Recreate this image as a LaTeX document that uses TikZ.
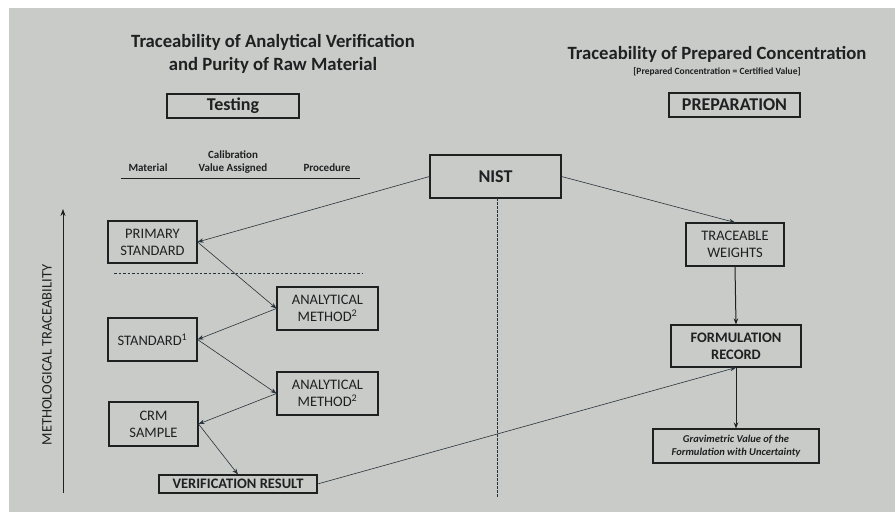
\documentclass[tikz,border=0pt]{standalone}
\usepackage{fontspec}
\setmainfont{Carlito}
\usetikzlibrary{arrows.meta,calc}
\definecolor{bg}{RGB}{201,203,200}
\definecolor{ink}{RGB}{30,32,34}
\definecolor{lnk}{RGB}{38,50,58}
\begin{document}
\begin{tikzpicture}[x=1pt,y=-1pt,
  box/.style={draw=ink,line width=1.1pt,text=ink,align=center,inner sep=1pt,font=\fontsize{14.5}{17}\selectfont},
  bbox/.style={box,font=\fontsize{14.5}{17}\selectfont\bfseries},
  conn/.style={draw=lnk,line width=0.6pt,-{Stealth[length=6pt,width=4.5pt]}},
  vconn/.style={conn,draw=ink,line width=1pt},
  hdr/.style={text=ink,font=\fontsize{11}{12.5}\selectfont\bfseries,inner sep=0pt}
]
\useasboundingbox (0,0) rectangle (895,512);
\fill[white] (0,0) rectangle (895,512);
\fill[bg] (9,8) rectangle (895,512);

% titles
\node[text=ink,font=\fontsize{18.7}{23}\selectfont\bfseries,align=center] (ttl) at (273,54) {Traceability of Analytical Verification\\and Purity of Raw Material};
\node[text=ink,font=\fontsize{18.7}{22}\selectfont\bfseries] (ttr) at (717,54) {Traceability of Prepared Concentration};
\node[text=ink,font=\fontsize{9.5}{11}\selectfont\bfseries] (sub) at (717,72) {[Prepared Concentration = Certified Value]};

\node[box,font=\fontsize{18}{20}\selectfont\bfseries,minimum width=132pt,minimum height=24pt] (testing) at (233,106) {Testing};
\node[box,font=\fontsize{18}{20}\selectfont\bfseries,minimum width=131pt,minimum height=24pt] (prep) at (734.5,105) {PREPARATION};

% column headers
\node[hdr] (hmat) at (148,168) {Material};
\node[hdr,align=center] (hcal) at (233,162) {Calibration\\[1pt]Value Assigned};
\node[hdr] (hproc) at (327,168) {Procedure};
\coordinate (hl1) at (121,178);
\coordinate (hl2) at (360,178);
\draw[ink,line width=0.8pt] (hl1) -- (hl2);

% boxes
\node[bbox,font=\fontsize{18}{20}\selectfont\bfseries,minimum width=131pt,minimum height=43pt] (nist) at (495.5,176.5) {NIST};
\node[box,minimum width=89pt,minimum height=42pt] (prim) at (152.5,242) {PRIMARY\\STANDARD};
\node[box,minimum width=101pt,minimum height=43pt] (am1) at (327.5,308.5) {ANALYTICAL\\METHOD\textsuperscript{2}};
\node[box,minimum width=89pt,minimum height=43pt] (std) at (152.5,339.5) {STANDARD\textsuperscript{1}};
\node[box,minimum width=101pt,minimum height=43pt] (am2) at (327.5,393.5) {ANALYTICAL\\METHOD\textsuperscript{2}};
\node[box,minimum width=89pt,minimum height=44pt] (crm) at (153.5,424) {CRM\\SAMPLE};
\node[bbox,font=\fontsize{14.5}{16}\selectfont\bfseries,minimum width=158pt,minimum height=18pt,inner sep=0pt] (ver) at (238,484) {VERIFICATION RESULT};
\node[box,minimum width=98pt,minimum height=43pt] (tw) at (735,244.5) {TRACEABLE\\WEIGHTS};
\node[bbox,minimum width=130pt,minimum height=42pt] (fr) at (736,346) {FORMULATION\\RECORD};
\node[box,font=\fontsize{10.5}{13}\selectfont\bfseries\itshape,minimum width=166pt,minimum height=34pt] (grav) at (736,446) {Gravimetric Value of the\\Formulation with Uncertainty};

% separators
\coordinate (dl1) at (114,273);
\coordinate (dl2) at (362,273);
\draw[lnk,line width=0.6pt,dash pattern=on 2.5pt off 2pt] (dl1) -- (dl2);
\coordinate (vd1) at (497,198);
\coordinate (vd2) at (497,497);
\draw[lnk,line width=0.6pt,dash pattern=on 2.5pt off 1.5pt] (vd1) -- (vd2);

% methodological traceability arrow
\coordinate (ma1) at (63,493);
\coordinate (ma2) at (63,209);
\draw[ink,line width=0.8pt,-{Stealth[length=7pt,width=5pt]}] (ma1) -- (ma2);
\node[text=ink,rotate=90,font=\fontsize{14.5}{16}\selectfont] (mlab) at (47,355) {METHOLOGICAL TRACEABILITY};

% connectors
\draw[conn] (nist.west) -- (prim.east);
\draw[conn] (prim.east) -- (am1.west);
\draw[conn] (am1.west) -- (std.east);
\draw[conn] (std.east) -- (am2.west);
\draw[conn] (am2.west) -- (crm.east);
\draw[conn] (crm.east) -- (ver.north);
\draw[conn] (ver.east) -- (fr.south);
\draw[conn] (nist.east) -- (tw.north);
\draw[vconn] (tw.south) -- (fr.north);
\draw[vconn] (fr.south) -- (grav.north);
\end{tikzpicture}
\end{document}
